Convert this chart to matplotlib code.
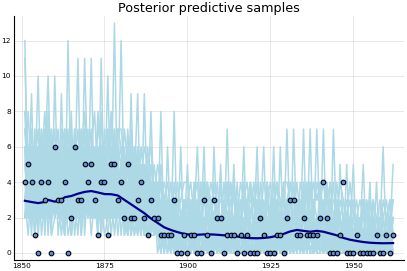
import matplotlib
matplotlib.use('Agg')
from matplotlib import pyplot as plt

# coal mining disasters per year, 1851-1962
years = list(range(1851, 1963))
disasters = [4, 5, 4, 1, 0, 4, 3, 4, 0, 6, 3, 3, 4, 0, 2, 6, 3, 3, 5, 4,
             5, 3, 1, 4, 4, 1, 5, 5, 3, 4, 2, 5, 2, 2, 3, 4, 2, 1, 3, 2,
             2, 1, 1, 1, 1, 3, 0, 0, 1, 0, 1, 1, 0, 0, 3, 1, 0, 3, 2, 2,
             0, 1, 1, 1, 0, 1, 0, 1, 0, 0, 0, 2, 1, 0, 0, 0, 1, 1, 0, 2,
             3, 3, 1, 1, 2, 1, 1, 1, 1, 2, 4, 2, 0, 0, 0, 1, 4, 0, 0, 0,
             1, 0, 0, 0, 0, 0, 1, 0, 0, 1, 0, 1]

# posterior predictive mean
mean_years = [1851, 1853, 1855, 1857, 1858, 1860, 1862, 1863, 1865, 1867,
              1869, 1871, 1873, 1875, 1877, 1879, 1881, 1883, 1885, 1887,
              1889, 1891, 1893, 1895, 1897, 1899, 1901, 1903, 1905, 1907,
              1909, 1911, 1913, 1915, 1917, 1919, 1921, 1923, 1925, 1927,
              1929, 1931, 1933, 1935, 1937, 1939, 1941, 1943, 1945, 1947,
              1949, 1951, 1953, 1955, 1957, 1959, 1962]
mean_vals = [2.95, 2.88, 2.82, 2.88, 3.0, 2.9, 3.0, 3.15, 3.22, 3.35,
             3.45, 3.5, 3.42, 3.33, 3.32, 3.25, 3.0, 2.75, 2.5, 2.25,
             1.95, 1.7, 1.45, 1.3, 1.18, 1.08, 1.03, 1.03, 1.05, 1.05,
             1.03, 1.0, 1.0, 0.93, 0.87, 0.84, 0.83, 0.85, 0.89, 0.97,
             1.08, 1.22, 1.3, 1.25, 1.2, 1.25, 1.2, 1.1, 1.0, 0.85,
             0.75, 0.68, 0.62, 0.58, 0.56, 0.55, 0.56]

# sampled counts, one string per draw (hex digit per year, 1851-59, 1860s ... 1950s, 1960-62)
samples = [
    "c241325a3 3241c32514 2431b23423 2419231421 2180218012 1026101201 0170120101 1601201011 7102170120 1701205101 5010040102 015",
    "b39243241 a324314b23 3b2413a243 c312491322 3120610160 1201160102 1021501601 0126011060 1071201701 0120710050 1015010401 102",
    "6234a2354 429324132b 42352313d2 3241231928 2312103121 5101201061 5102101204 1012016012 0210121017 1201010210 0100102016 010",
    "352714325 2461352437 4135263241 3522413213 1203112010 2101401102 1012031011 0211013101 2103101210 1021130100 0103001001 100",
    "243162532 5234126314 2351427325 4263124132 3012120110 0120110310 2011012031 1301120110 0121011402 2101201011 0021010010 021",
    "425336142 3621435242 5324312536 2435213241 2131021201 1210211021 0214102110 2110310211 1310210121 0213012101 1003201100 101",
    "732451363 2345273153 3462342352 5132623312 1322101312 3012012110 1102210121 0121101204 1012031101 2110120110 0110020101 001",
    "341523724 6132542361 4236153413 2351342523 4210231021 1301120211 2010121301 1202102110 2011301012 1041011201 0201100120 110",
    "526324237 3426324532 6342532634 3624325324 2413212202 0113102110 1241011022 3011410311 0120112130 1302101012 1010310001 010",
    "263415423 4253613425 3524364132 4123251431 1242120211 2021011013 0301201210 1130121021 1201021201 4011210110 2100101010 102",
    "435243281 2534237243 5243825324 1342332152 3121202113 1102140120 1021103102 0211011021 2110201101 0112012010 1011001011 010",
    "314632435 7313452346 2435243263 3214523232 2213012111 1210121101 2101120110 1012101102 0101120211 2010110121 0101010100 200",
    "543263514 3462314632 4623425437 6243132313 2102111022 0131201211 4110210120 2101121010 1212012011 1120101201 0013011001 011",
    "823524352 4325423524 3254234623 2531434221 3221121210 2101012012 0123110211 1021031101 0112104110 1201120101 1010100210 001",
    "236437243 5243536243 2342635245 3425243123 1312210211 1021104120 2110012101 0211102112 1101210121 2011011012 0120101001 100",
    "452342636 2354263424 4325342372 5324321322 2130212112 1211020111 0112101102 2101210111 1021101210 0121020110 1100013010 010",
    "364253424 4527342635 6253423524 2342362241 1221301121 2110211201 1201141011 1012011210 2110121011 1210210201 0101020100 101",
    "532425342 3642525372 4362353243 3236234212 2312121012 1120112110 1011401210 0120110121 1202112001 2101102110 1010110010 020",
    "245364253 4235246253 3526435234 4253242534 3123112101 2101201012 1210112010 1102120101 2011041212 0102110101 1001011010 031",
    "634242435 3524325426 2434524362 3423523223 2211231120 1012110121 2101021101 1210401110 0121101102 1012011020 0100101100 100",
    "647352645 5736482574 7465374635 6374536425 3423423123 2312413213 3241231421 2413214231 3142324132 2314232312 3122131221 213",
    "753647536 4653746358 5738546574 4753645364 4253242342 3142314324 1423312342 4231432413 2423143243 4232413231 2311322132 312",
    "584573474 6375365746 4684653756 5437463543 5334314234 4234132431 2332423134 3142342324 4324231424 3423142123 1232213213 231",
    "865465857 5467537465 6547635847 7565354656 3542332423 3423243142 4134324323 3324323432 3431432343 3243324324 2213232122 123",
]

fig = plt.figure(figsize=(4.07, 2.71), dpi=100)
ax = fig.add_axes([0.034, 0.041, 0.959, 0.9])

for s in samples:
    vals = [int(c, 16) for c in s.replace(' ', '')]
    ax.plot(years, vals, c='#add8e6', lw=1.1, zorder=1)

ax.plot(mean_years, mean_vals, c='#00008b', lw=1.6, zorder=3)
ax.scatter(years, disasters, s=11, c='#5b8fe8', edgecolors='black',
           linewidths=0.8, zorder=4)

ax.set_title('Posterior predictive samples', fontsize=9.2, pad=3)
ax.set_xlim(1847.67, 1965.33)
ax.set_ylim(-0.39, 13.39)
ax.set_xticks([1850, 1875, 1900, 1925, 1950])
ax.set_yticks([0, 2, 4, 6, 8, 10, 12])
ax.grid(True, color='black', alpha=0.1, lw=0.6)
ax.set_axisbelow(True)
for side in ['top', 'right']:
    ax.spines[side].set_visible(False)
ax.tick_params(axis='both', length=0, labelsize=5.3, pad=2)

plt.savefig('out.png', dpi=100)
